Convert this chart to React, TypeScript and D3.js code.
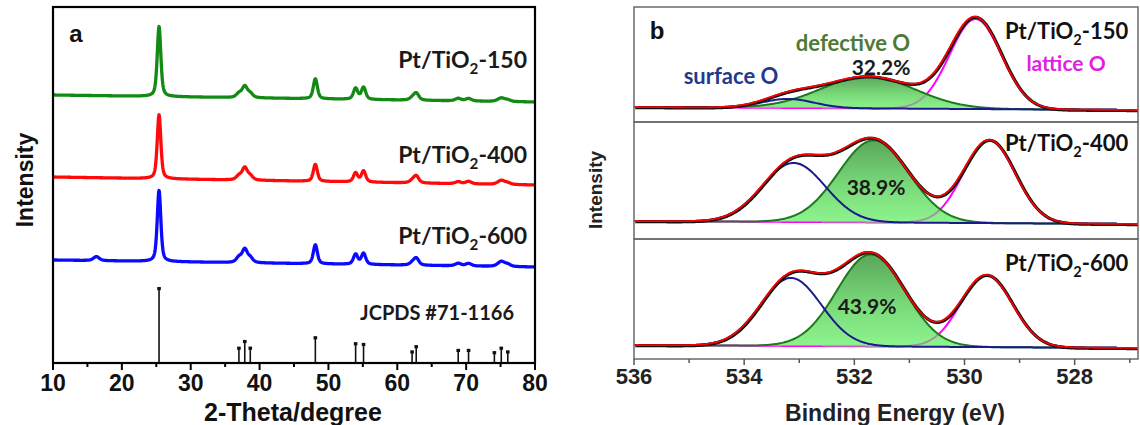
import React from "react";
import * as d3 from "d3";

// ---------- Panel a : XRD ----------
const XRD_SAMPLES = ["150", "400", "600"];
const XRD_COLORS = ["#138a13", "#ff0a0a", "#0a0aff"];
const XRD_PEAK_POS = [16.3, 25.4, 37.0, 37.85, 38.65, 48.1, 53.95, 55.1, 62.15, 62.75, 68.85, 70.35, 75.1, 76.05];
const XRD_PEAK_FWHM = [1.0, 0.62, 0.9, 0.9, 0.9, 0.7, 0.75, 0.75, 0.9, 0.9, 1.0, 1.0, 1.2, 1.0];
const XRD_150_HEIGHTS = [0, 70, 4, 11, 4, 20, 11, 12, 2, 7, 2.5, 2.5, 3.5, 1.5];
const XRD_400_HEIGHTS = [0, 64, 4, 12, 4, 17, 9, 11, 2, 7, 2, 2.5, 4, 1.5];
const XRD_600_HEIGHTS = [4, 71, 5, 13, 4.5, 19, 10, 11, 2, 7, 2.5, 2.5, 5, 2];
const XRD_HEIGHTS = [XRD_150_HEIGHTS, XRD_400_HEIGHTS, XRD_600_HEIGHTS];
const XRD_BASELINE_LEFT = [268, 186, 103];
const XRD_BASELINE_RIGHT = [261, 178, 96];

const JCPDS_POS = [25.4, 37.0, 37.85, 38.65, 48.1, 53.95, 55.1, 62.15, 62.75, 68.85, 70.35, 74.1, 75.1, 76.05];
const JCPDS_INT = [100, 20, 29, 20, 34, 26, 25, 15, 22, 17, 17, 14, 20, 15];
const XRD_TICKS = [10, 20, 30, 40, 50, 60, 70, 80];

// ---------- Panel b : XPS O 1s ----------
const XPS_SAMPLES = ["150", "400", "600"];
const XPS_CENTERS = [
  [533.2, 531.75, 529.8],
  [533.1, 531.65, 529.55],
  [533.15, 531.7, 529.6],
];
const XPS_HEIGHTS = [
  [9, 32, 90],
  [59, 82, 83],
  [68, 92, 72],
];
const XPS_FWHM = [
  [1.1, 2.0, 1.1],
  [1.35, 1.5, 1.1],
  [1.3, 1.45, 1.1],
];
const XPS_BASELINE_LEFT = [15, 18, 14];
const XPS_BASELINE_RIGHT = [12, 15, 11];
const XPS_DEFECT_PCT = ["32.2%", "38.9%", "43.9%"];
const XPS_TICKS = [536, 534, 532, 530, 528];

// ---------- layout ----------
const W = 1140, H = 425;
const A = { left: 53, right: 535, top: 7, bottom: 363 };
const B = { left: 634, right: 1138 };
const B_BOXES = [[7, 122], [122, 239], [239, 359]];

const LABEL_FONT = "Lato, 'Open Sans', sans-serif";
const AXIS_FONT = "'Liberation Sans', Arial, sans-serif";

const xA = d3.scaleLinear().domain([10, 80]).range([A.left, A.right]);
const yA = d3.scaleLinear().domain([0, A.bottom - A.top]).range([A.bottom, A.top]);
const stickScale = d3.scaleLinear().domain([0, 100]).range([0, 74.5]);

const xB = d3.scaleLinear().domain([536, 526.85]).range([B.left, B.right]);

const LN2 = Math.log(2);
function pv(x: number, c: number, h: number, w: number) {
  const t = (x - c) / w;
  const L = 1 / (1 + 4 * t * t);
  const G = Math.exp(-4 * LN2 * t * t);
  return h * (0.5 * L + 0.5 * G);
}
function gauss(x: number, c: number, h: number, w: number) {
  const t = (x - c) / w;
  return h * Math.exp(-4 * LN2 * t * t);
}

const xrdGrid = d3.range(10, 80.0001, 0.035);
const xpsGrid = d3.range(526.85, 536.0001, 0.02);

function xrdCurve(i: number): [number, number][] {
  return xrdGrid.map((x) => {
    const base = XRD_BASELINE_LEFT[i] + (XRD_BASELINE_RIGHT[i] - XRD_BASELINE_LEFT[i]) * (x - 10) / 70;
    let v = base;
    XRD_PEAK_POS.forEach((p, k) => {
      const h = XRD_HEIGHTS[i][k];
      if (h > 0) v += pv(x, p, h, XRD_PEAK_FWHM[k]);
    });
    return [x, v];
  });
}

function Sub({ fs, main, sub, rest }: { fs: number; main: string; sub: string; rest: string }) {
  return (
    <>
      {main}
      <tspan fontSize={fs * 0.66} dy={fs * 0.26}>{sub}</tspan>
      <tspan dy={-fs * 0.26}>{rest}</tspan>
    </>
  );
}

function PanelA() {
  const line = d3.line<[number, number]>().x((d) => xA(d[0])).y((d) => yA(d[1]));
  const labelY = [60, 155, 236];
  const minorTicks = d3.range(15, 80, 10);
  return (
    <g>
      {XRD_SAMPLES.map((s, i) => (
        <path key={s} d={line(xrdCurve(i)) || ""} fill="none" stroke={XRD_COLORS[i]} strokeWidth={3.3} strokeLinejoin="round" />
      ))}
      {JCPDS_POS.map((p, k) => {
        const x = xA(p);
        const y1 = yA(stickScale(JCPDS_INT[k]));
        return (
          <g key={k}>
            <line x1={x} x2={x} y1={A.bottom} y2={y1} stroke="#111" strokeWidth={1.6} />
            <rect x={x - 1.8} y={y1 - 1.5} width={3.6} height={3.2} fill="#111" />
          </g>
        );
      })}
      <rect x={A.left} y={A.top} width={A.right - A.left} height={A.bottom - A.top} fill="none" stroke="#000" strokeWidth={2.2} />
      {XRD_TICKS.map((t) => (
        <g key={t}>
          <line x1={xA(t)} x2={xA(t)} y1={A.bottom} y2={A.bottom + 7} stroke="#000" strokeWidth={2} />
          <text x={xA(t)} y={383} dy="0.36em" textAnchor="middle" fontFamily={AXIS_FONT} fontWeight="bold" fontSize={23} fill="#111">{t}</text>
        </g>
      ))}
      {minorTicks.map((t) => (
        <line key={t} x1={xA(t)} x2={xA(t)} y1={A.bottom} y2={A.bottom + 4} stroke="#000" strokeWidth={2} />
      ))}
      <text x={293} y={412} dy="0.36em" textAnchor="middle" fontFamily={AXIS_FONT} fontWeight="bold" fontSize={25} fill="#111">2-Theta/degree</text>
      <text transform="translate(25,180) rotate(-90)" dy="0.36em" textAnchor="middle" fontFamily={AXIS_FONT} fontWeight="bold" fontSize={23} fill="#111">Intensity</text>
      <text x={76} y={33} dy="0.36em" textAnchor="middle" fontFamily={AXIS_FONT} fontWeight="bold" fontSize={24} fill="#111">a</text>
      {XRD_SAMPLES.map((s, i) => (
        <text key={s} x={527} y={labelY[i]} dy="0.36em" textAnchor="end" fontFamily={LABEL_FONT} fontWeight="bold" fontSize={23} fill="#1a1a1a">
          <Sub fs={23} main="Pt/TiO" sub="2" rest={"-" + s} />
        </text>
      ))}
      <text x={514} y={313} dy="0.36em" textAnchor="end" fontFamily={LABEL_FONT} fontWeight="bold" fontSize={20} fill="#1a1a1a">JCPDS #71-1166</text>
    </g>
  );
}

function XpsBox({ i }: { i: number }) {
  const [top, bottom] = B_BOXES[i];
  const y = d3.scaleLinear().domain([0, bottom - top]).range([bottom, top]);
  const base = (x: number) => XPS_BASELINE_LEFT[i] + (XPS_BASELINE_RIGHT[i] - XPS_BASELINE_LEFT[i]) * (536 - x) / (536 - 526.85);
  const comp = (k: number) => xpsGrid.map((x) => [x, base(x) + gauss(x, XPS_CENTERS[i][k], XPS_HEIGHTS[i][k], XPS_FWHM[i][k])] as [number, number]);
  const surf = comp(0), defect = comp(1), latt = comp(2);
  const env = xpsGrid.map((x) => {
    let v = base(x);
    for (let k = 0; k < 3; k++) v += gauss(x, XPS_CENTERS[i][k], XPS_HEIGHTS[i][k], XPS_FWHM[i][k]);
    return [x, v] as [number, number];
  });
  const line = d3.line<[number, number]>().x((d) => xB(d[0])).y((d) => y(d[1])).curve(d3.curveLinear);
  const area = d3.area<[number, number]>().x((d) => xB(d[0])).y0((d) => y(base(d[0]))).y1((d) => y(d[1]));
  const gid = `grad${i}`, cid = `clipg${i}`, bid = `clipb${i}`;
  const pctPos = [[881, 67], [876, 187], [867, 306]][i];
  const labelY = [31, 143, 263][i];
  return (
    <g>
      <defs>
        <linearGradient id={gid} x1="0" y1="0" x2="0" y2="1">
          <stop offset="0%" stopColor="#5aa65a" />
          <stop offset="55%" stopColor="#7ada7a" />
          <stop offset="100%" stopColor="#8ef58e" />
        </linearGradient>
        <clipPath id={cid}>
          <path d={area(defect) || ""} />
        </clipPath>
        <clipPath id={bid}>
          <rect x={B.left} y={top} width={B.right - B.left} height={bottom - top} />
        </clipPath>
      </defs>
      <g clipPath={`url(#${bid})`}>
        <path d={line(latt) || ""} fill="none" stroke="#ff00ff" strokeWidth={2} />
        <path d={area(defect) || ""} fill={`url(#${gid})`} />
        <path d={line(latt) || ""} fill="none" stroke="#9a9a9a" strokeWidth={2} clipPath={`url(#${cid})`} />
        <path d={line(defect) || ""} fill="none" stroke="#1c7a1c" strokeWidth={2} />
        <path d={line(surf) || ""} fill="none" stroke="#1a1a8c" strokeWidth={2} />
        <path d={line(env) || ""} fill="none" stroke="#111" strokeWidth={3.2} transform="translate(0.8,0.6)" />
        <path d={line(env) || ""} fill="none" stroke="#ff0000" strokeWidth={1.8} />
      </g>
      <rect x={B.left} y={top} width={B.right - B.left} height={bottom - top} fill="none" stroke="#6a6a6a" strokeWidth={1.5} />
      <text x={pctPos[0]} y={pctPos[1]} dy="0.36em" textAnchor="middle" fontFamily={LABEL_FONT} fontWeight="bold" fontSize={21} fill="#1a1a1a">{XPS_DEFECT_PCT[i]}</text>
      <text x={1005} y={labelY} dy="0.36em" textAnchor="start" fontFamily={LABEL_FONT} fontWeight="bold" fontSize={22} fill="#111">
        <Sub fs={22} main="Pt/TiO" sub="2" rest={"-" + XPS_SAMPLES[i]} />
      </text>
    </g>
  );
}

function PanelB() {
  const minor = d3.range(535, 526.85, -2);
  return (
    <g>
      {XPS_SAMPLES.map((s, i) => <XpsBox key={s} i={i} />)}
      {XPS_TICKS.map((t) => (
        <g key={t}>
          <line x1={xB(t)} x2={xB(t)} y1={359} y2={365} stroke="#555" strokeWidth={1.5} />
          <text x={xB(t)} y={376} dy="0.36em" textAnchor="middle" fontFamily={AXIS_FONT} fontWeight="bold" fontSize={22} fill="#222">{t}</text>
        </g>
      ))}
      {minor.map((t) => (
        <line key={t} x1={xB(t)} x2={xB(t)} y1={359} y2={363} stroke="#555" strokeWidth={1.5} />
      ))}
      <text x={895} y={413} dy="0.36em" textAnchor="middle" fontFamily={AXIS_FONT} fontWeight="bold" fontSize={23} fill="#222">Binding Energy (eV)</text>
      <text transform="translate(595,190) rotate(-90)" dy="0.36em" textAnchor="middle" fontFamily={AXIS_FONT} fontWeight="bold" fontSize={19} fill="#222">Intensity</text>
      <text x={657} y={30} dy="0.36em" textAnchor="middle" fontFamily={AXIS_FONT} fontWeight="bold" fontSize={24} fill="#111">b</text>
      <text x={853} y={43} dy="0.36em" textAnchor="middle" fontFamily={LABEL_FONT} fontWeight="bold" fontSize={22} fill="#4d7a34">defective O</text>
      <text x={731} y={76} dy="0.36em" textAnchor="middle" fontFamily={LABEL_FONT} fontWeight="bold" fontSize={22} fill="#1f3a8a">surface O</text>
      <text x={1066} y={63} dy="0.36em" textAnchor="middle" fontFamily={LABEL_FONT} fontWeight="bold" fontSize={21} fill="#e21ee2">lattice O</text>
    </g>
  );
}

export default function App() {
  return (
    <svg width={W} height={H} viewBox={`0 0 ${W} ${H}`} style={{ position: "absolute", left: 0, top: 0, background: "#fff" }}>
      <rect x={0} y={0} width={W} height={H} fill="#fff" />
      <PanelA />
      <PanelB />
    </svg>
  );
}
